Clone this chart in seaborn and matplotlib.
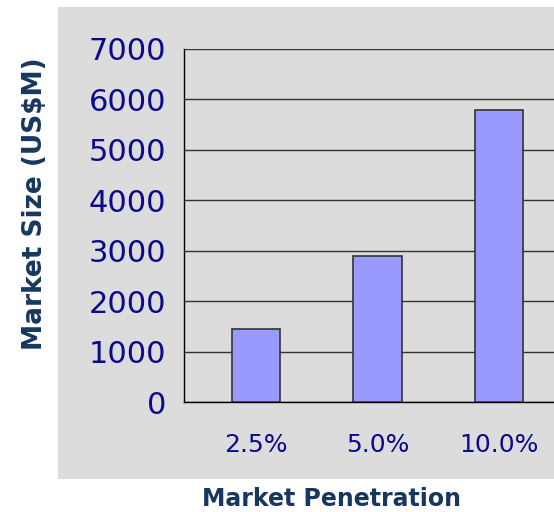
import numpy as np
import pandas as pd
import seaborn as sns
import matplotlib.pyplot as plt
from matplotlib.patches import Rectangle

penetration = ["2.5%", "5.0%", "10.0%"]
market_size = [1450, 2900, 5800]

navy = "#0a0a8c"
label_blue = "#17375e"
gray = "#dcdcdc"

df = pd.DataFrame({"Market Penetration": penetration, "Market Size": market_size})

sns.set_style("white")
fig = plt.figure(figsize=(5.54, 5.12), dpi=100)
W, H = 554, 512

# grey chart area behind the plot
fig.patches.append(Rectangle((58 / W, 1 - 479 / H), (W - 58) / W, (479 - 7) / H,
                             transform=fig.transFigure, facecolor=gray,
                             edgecolor="none", zorder=-5))

ax = fig.add_axes([184 / W, 1 - 402 / H, (W - 184) / W, (402 - 49) / H])
ax.set_zorder(2)
ax.set_facecolor(gray)

sns.barplot(data=df, x="Market Penetration", y="Market Size", ax=ax,
            color="#9999ff", saturation=1, width=0.4,
            edgecolor="#333333", linewidth=1.2, zorder=3)

ax.set_ylim(0, 7000)
ax.set_yticks(np.arange(0, 7001, 1000))
ax.set_xlim(-0.593, 2.453)
ax.yaxis.grid(True, color="#333333", linewidth=1)
ax.set_axisbelow(True)

for s in ["top", "right"]:
    ax.spines[s].set_visible(False)
ax.spines["left"].set_color("black")
ax.spines["bottom"].set_color("black")
ax.spines["left"].set_linewidth(1)
ax.spines["bottom"].set_linewidth(1)

ax.tick_params(axis="y", direction="out", length=10, width=1, color="#555555",
               labelsize=22, labelcolor=navy, pad=3)
ax.tick_params(axis="x", which="major", length=0, labelsize=18,
               labelcolor=navy, pad=22)
ax.set_xticks([-0.593, 0.5, 1.5], minor=True)
ax.tick_params(axis="x", which="minor", direction="out", length=8, width=1,
               color="#444444")

ax.set_xlabel("")
ax.set_ylabel("")
fig.text(35 / W, 1 - 204 / H, "Market Size (US$M)", rotation=90,
         ha="center", va="center", fontsize=19, fontweight="bold",
         color=label_blue)
fig.text(332 / W, 1 - 499 / H, "Market Penetration", ha="center",
         va="center", fontsize=17, fontweight="bold", color=label_blue)

fig.savefig("out.png", dpi=100)
